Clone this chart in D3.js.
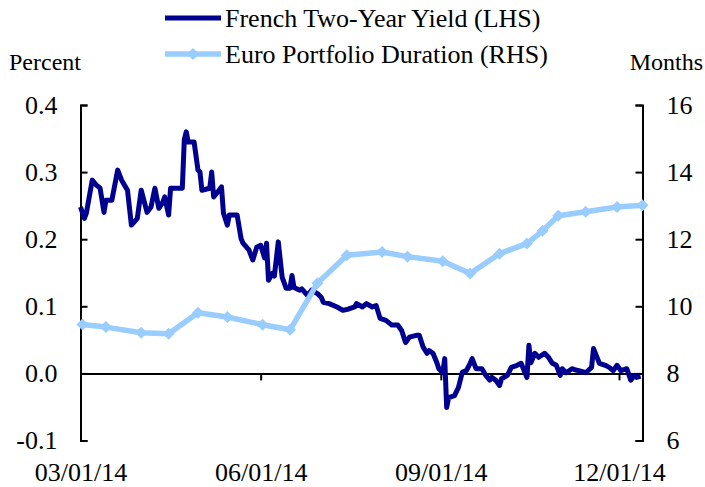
<!DOCTYPE html>
<html>
<head>
<meta charset="utf-8">
<script src="https://cdn.jsdelivr.net/npm/d3@7"></script>
<style>
  body { margin: 0; background: #fff; }
  svg text { font-family: "Liberation Serif", "Times New Roman", serif; fill: #000; }
</style>
</head>
<body>
<div id="chart"></div>
<script>
let width = 705, height = 487;

// French two-year yield, percent (LHS)
let yieldDates = [
  "2014-03-01","2014-03-03","2014-03-04","2014-03-07","2014-03-09","2014-03-11","2014-03-13","2014-03-14",
  "2014-03-17","2014-03-20","2014-03-22","2014-03-25","2014-03-27","2014-03-30","2014-04-01","2014-04-04",
  "2014-04-06","2014-04-08","2014-04-10","2014-04-12","2014-04-13","2014-04-15","2014-04-16","2014-04-22",
  "2014-04-23","2014-04-24","2014-04-25","2014-04-27","2014-04-28","2014-04-30","2014-05-01","2014-05-02",
  "2014-05-06","2014-05-07","2014-05-08","2014-05-10","2014-05-12","2014-05-13","2014-05-15","2014-05-16",
  "2014-05-20","2014-05-22","2014-05-23","2014-05-26","2014-05-28","2014-05-30","2014-06-01","2014-06-03",
  "2014-06-04","2014-06-05","2014-06-07","2014-06-08","2014-06-10","2014-06-12","2014-06-14","2014-06-16",
  "2014-06-17","2014-06-18","2014-06-21","2014-06-22","2014-06-25","2014-06-27","2014-06-30","2014-07-02",
  "2014-07-03","2014-07-06","2014-07-10","2014-07-13","2014-07-16","2014-07-19","2014-07-20","2014-07-23",
  "2014-07-25","2014-07-28","2014-07-30","2014-08-01","2014-08-04","2014-08-07","2014-08-10","2014-08-12",
  "2014-08-14","2014-08-16","2014-08-20","2014-08-21","2014-08-23","2014-08-25","2014-08-26","2014-08-28",
  "2014-08-30","2014-08-31","2014-09-02","2014-09-03","2014-09-04","2014-09-05","2014-09-08","2014-09-10",
  "2014-09-12","2014-09-14","2014-09-16","2014-09-17","2014-09-19","2014-09-21","2014-09-22","2014-09-24",
  "2014-09-26","2014-09-27","2014-09-29","2014-10-01","2014-10-02","2014-10-05","2014-10-07","2014-10-10",
  "2014-10-12","2014-10-15","2014-10-16","2014-10-17","2014-10-19","2014-10-21","2014-10-24","2014-10-26",
  "2014-10-28","2014-10-30","2014-11-01","2014-11-02","2014-11-04","2014-11-07","2014-11-09","2014-11-12",
  "2014-11-14","2014-11-17","2014-11-18","2014-11-21","2014-11-24","2014-11-26","2014-11-28","2014-11-30",
  "2014-12-02","2014-12-05","2014-12-07","2014-12-09","2014-12-10","2014-12-12"
];
let yieldValues = [
  0.248,0.231,0.239,0.288,0.281,0.276,0.240,0.258,
  0.258,0.303,0.288,0.273,0.221,0.231,0.273,0.240,
  0.248,0.276,0.246,0.255,0.263,0.236,0.276,0.276,
  0.348,0.360,0.345,0.345,0.345,0.303,0.300,0.273,
  0.276,0.300,0.263,0.270,0.278,0.239,0.221,0.236,
  0.236,0.201,0.194,0.184,0.169,0.188,0.191,0.172,
  0.194,0.139,0.149,0.145,0.196,0.143,0.127,0.127,
  0.146,0.128,0.124,0.126,0.116,0.124,0.119,0.113,
  0.106,0.104,0.099,0.094,0.096,0.099,0.104,0.099,
  0.104,0.099,0.101,0.082,0.079,0.072,0.072,0.064,
  0.046,0.054,0.057,0.057,0.039,0.030,0.034,0.030,
  0.016,0.007,0.001,0.022,-0.051,-0.036,-0.033,-0.021,
  0.002,0.004,0.015,0.022,0.007,0.007,0.007,-0.003,
  -0.010,-0.006,-0.010,-0.018,-0.008,-0.003,0.009,0.012,
  0.015,-0.006,0.042,0.016,0.030,0.024,0.030,0.024,
  0.015,0.012,-0.003,0.007,0.001,0.007,0.005,0.003,
  0.001,0.009,0.037,0.015,0.012,0.009,0.004,0.012,
  0.004,0.007,-0.010,-0.003,-0.006,-0.004
];

// Euro portfolio duration, months (RHS)
let durationDates = [
  "2014-03-02","2014-03-14","2014-04-01","2014-04-15","2014-04-30","2014-05-15","2014-06-02",
  "2014-06-16","2014-06-30","2014-07-15","2014-08-02","2014-08-15","2014-09-02","2014-09-16",
  "2014-10-01","2014-10-15","2014-10-23","2014-10-31","2014-11-14","2014-11-30","2014-12-13"
];
let durationValues = [
  9.46,9.38,9.21,9.18,9.81,9.68,9.45,
  9.30,10.69,11.52,11.62,11.48,11.34,10.98,
  11.57,11.87,12.25,12.70,12.82,12.96,13.01
];

let leftTicks = [-0.1, 0.0, 0.1, 0.2, 0.3, 0.4];
let rightTicks = [6, 8, 10, 12, 14, 16];
let dateTicks = ["2014-03-01","2014-06-01","2014-09-01","2014-12-01"];
let seriesNames = ["French Two-Year Yield (LHS)", "Euro Portfolio Duration (RHS)"];

let darkBlue = "#000090", lightBlue = "#99ccff";
let parseDate = d3.timeParse("%Y-%m-%d");

let plotLeft = 80.5, plotRight = 642.5, plotTop = 105, plotBottom = 440.5;

let x = d3.scaleTime()
    .domain([parseDate("2014-03-01"), parseDate("2014-12-13")])
    .range([plotLeft, plotRight]);
let yL = d3.scaleLinear().domain([-0.1, 0.4]).range([plotBottom, plotTop]);
let yR = d3.scaleLinear().domain([6, 16]).range([plotBottom, plotTop]);

let svg = d3.select("#chart").append("svg")
    .attr("width", width)
    .attr("height", height);

let yieldData = yieldDates.map((d, i) => ({date: parseDate(d), value: yieldValues[i]}));
let durationData = durationDates.map((d, i) => ({date: parseDate(d), value: durationValues[i]}));

// x axis sits on the zero line, labels far below
svg.append("g")
    .attr("transform", `translate(0,${yL(0)})`)
    .call(d3.axisBottom(x)
        .tickValues(dateTicks.map(parseDate))
        .tickFormat(d3.timeFormat("%m/%d/%y"))
        .tickSize(7)
        .tickSizeOuter(0)
        .tickPadding(82));

// left axis, ticks point inward
svg.append("g")
    .attr("transform", `translate(${plotLeft},0)`)
    .call(d3.axisLeft(yL)
        .tickValues(leftTicks)
        .tickFormat(d => d.toFixed(1))
        .tickSize(-7)
        .tickSizeOuter(-7)
        .tickPadding(23));

svg.append("g")
    .attr("transform", `translate(${plotRight},0)`)
    .call(d3.axisRight(yR)
        .tickValues(rightTicks)
        .tickSize(-7)
        .tickSizeOuter(-7)
        .tickPadding(24));

svg.selectAll(".domain, .tick line")
    .attr("stroke", "#000")
    .attr("stroke-width", 2);
svg.selectAll(".tick text")
    .style("font-family", "'Liberation Serif', 'Times New Roman', serif")
    .style("font-size", "26px")
    .attr("fill", "#000");

// lines
let yieldLine = d3.line()
    .x(d => x(d.date))
    .y(d => yL(d.value));

let durationLine = d3.line()
    .x(d => x(d.date))
    .y(d => yR(d.value));

svg.append("path")
    .datum(yieldData)
    .attr("d", yieldLine)
    .attr("fill", "none")
    .attr("stroke", darkBlue)
    .attr("stroke-width", 5)
    .attr("stroke-linejoin", "round");

svg.append("path")
    .datum(durationData)
    .attr("d", durationLine)
    .attr("fill", "none")
    .attr("stroke", lightBlue)
    .attr("stroke-width", 5.5)
    .attr("stroke-linejoin", "round");

let diamond = d3.symbol().type(d3.symbolSquare).size(72);

svg.selectAll(".marker")
    .data(durationData)
    .enter().append("path")
    .attr("class", "marker")
    .attr("d", diamond)
    .attr("transform", d => `translate(${x(d.date)},${yR(d.value)}) rotate(45)`)
    .attr("fill", lightBlue);

// axis titles
svg.append("text")
    .attr("x", 9)
    .attr("y", 70)
    .style("font-size", "24px")
    .text("Percent");

svg.append("text")
    .attr("x", 703)
    .attr("y", 70)
    .attr("text-anchor", "end")
    .style("font-size", "24px")
    .text("Months");

// legend
let legend = svg.append("g");
let legendY = [18, 54];

legend.append("line")
    .attr("x1", 165).attr("x2", 221)
    .attr("y1", legendY[0]).attr("y2", legendY[0])
    .attr("stroke", darkBlue)
    .attr("stroke-width", 5);

legend.append("line")
    .attr("x1", 165).attr("x2", 221)
    .attr("y1", legendY[1]).attr("y2", legendY[1])
    .attr("stroke", lightBlue)
    .attr("stroke-width", 5.5);

legend.append("path")
    .attr("d", diamond)
    .attr("transform", `translate(193,${legendY[1]}) rotate(45)`)
    .attr("fill", lightBlue);

legend.selectAll(".legend-text")
    .data(seriesNames)
    .enter().append("text")
    .attr("class", "legend-text")
    .attr("x", 225)
    .attr("y", (d, i) => legendY[i] + 9)
    .style("font-size", "26px")
    .text(d => d);
</script>
</body>
</html>
